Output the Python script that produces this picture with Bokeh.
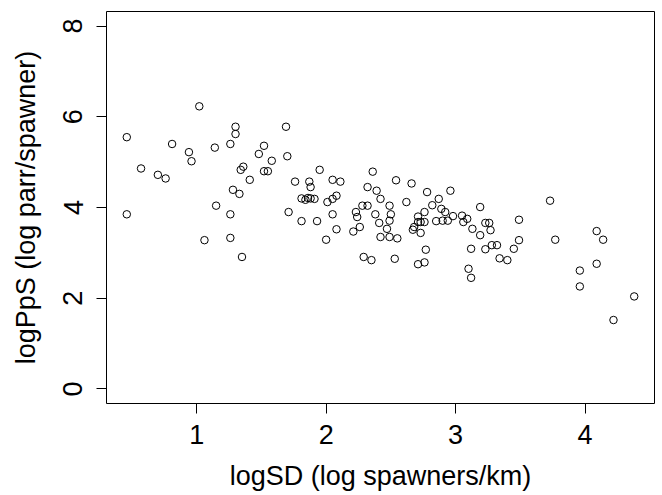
from bokeh.plotting import figure
from bokeh.models import Range1d, FixedTicker, ColumnDataSource
from bokeh.embed import file_html
from bokeh.resources import INLINE

log_sd = [0.46, 0.46, 0.57, 0.70, 0.76, 0.81, 0.94, 0.96, 1.02, 1.06,
          1.14, 1.15, 1.26, 1.26, 1.26, 1.28, 1.30, 1.30, 1.33, 1.34,
          1.35, 1.36, 1.41, 1.48, 1.52, 1.52, 1.55, 1.58, 1.69, 1.70,
          1.71, 1.76, 1.81, 1.84, 1.86, 1.91, 1.87, 1.88, 1.81, 1.93,
          1.95, 2.00, 2.01, 2.05, 2.08, 2.05, 2.11, 2.05, 2.08, 2.21,
          2.26, 2.23, 2.24, 2.28, 2.32, 2.29, 2.35, 2.32, 2.36, 2.39,
          2.38, 2.41, 2.42, 2.42, 2.49, 2.55, 2.47, 2.49, 2.49, 2.50,
          2.54, 2.53, 2.62, 2.66, 2.67, 2.68, 2.71, 2.73, 2.76, 2.71,
          2.76, 2.73, 2.77, 2.71, 2.76, 2.78, 2.82, 2.85, 2.87, 2.89,
          2.92, 2.90, 2.94, 2.96, 2.98, 3.05, 3.09, 3.06, 3.13, 3.19,
          3.19, 3.23, 3.26, 3.27, 3.12, 3.23, 3.28, 3.32, 3.34, 3.40,
          3.10, 3.12, 3.45, 3.49, 3.49, 3.73, 3.77, 3.96, 3.96, 4.09,
          4.14, 4.09, 4.22, 4.38, 1.88]
log_pps = [5.55, 3.85, 4.86, 4.72, 4.64, 5.40, 5.22, 5.02, 6.23, 3.28,
           5.32, 4.04, 5.40, 3.85, 3.33, 4.39, 5.78, 5.62, 4.30, 4.83,
           2.91, 4.90, 4.61, 5.18, 4.80, 5.36, 4.80, 5.03, 5.78, 5.13,
           3.90, 4.57, 4.20, 4.17, 4.21, 4.19, 4.57, 4.45, 3.70, 3.70,
           4.83, 3.29, 4.12, 4.19, 4.26, 4.61, 4.57, 3.85, 3.52, 3.47,
           3.57, 3.90, 3.79, 4.04, 4.04, 2.91, 2.84, 4.45, 4.79, 4.37,
           3.85, 3.66, 4.19, 3.35, 3.35, 3.32, 3.53, 3.71, 4.04, 3.85,
           4.60, 2.87, 4.12, 4.53, 3.51, 3.57, 3.68, 3.68, 3.68, 3.80,
           3.90, 3.44, 3.07, 2.75, 2.79, 4.34, 4.05, 3.70, 4.19, 3.97,
           3.90, 3.71, 3.71, 4.37, 3.81, 3.82, 3.75, 3.68, 3.53, 4.01,
           3.39, 3.66, 3.66, 3.50, 3.09, 3.08, 3.17, 3.17, 2.88, 2.84,
           2.65, 2.45, 3.09, 3.28, 3.73, 4.15, 3.29, 2.61, 2.26, 3.48,
           3.29, 2.76, 1.52, 2.04, 4.20]

x_ticks = [1, 2, 3, 4]
y_ticks = [0, 2, 4, 6, 8]
y_lim = (0, 8)
x_title = "logSD (log spawners/km)"
y_title = "logPpS (log parr/spawner)"

xmin, xmax = min(log_sd), max(log_sd)
xpad = 0.04 * (xmax - xmin)
ypad = 0.04 * (y_lim[1] - y_lim[0])

src = ColumnDataSource(data=dict(x=log_sd, y=log_pps))

p = figure(frame_width=548, frame_height=392,
           min_border_left=106, min_border_top=11, min_border_right=8, min_border_bottom=90,
           output_backend="svg", toolbar_location=None,
           x_range=Range1d(xmin - xpad, xmax + xpad),
           y_range=Range1d(y_lim[0] - ypad, y_lim[1] + ypad))

p.scatter("x", "y", source=src, marker="circle", size=7.5,
          fill_color=None, line_color="black", line_width=1)

p.grid.visible = False
p.outline_line_color = "black"
p.outline_line_width = 1
p.outline_line_alpha = 1
p.background_fill_color = "white"
p.border_fill_color = "white"

FONT = "Liberation Sans"
for ax, ticks, title in ((p.xaxis[0], x_ticks, x_title), (p.yaxis[0], y_ticks, y_title)):
    ax.ticker = FixedTicker(ticks=ticks)
    ax.axis_line_color = None
    ax.major_tick_in = 0
    ax.major_tick_out = 10
    ax.major_tick_line_color = "black"
    ax.major_tick_line_width = 1
    ax.minor_tick_line_color = None
    ax.major_label_text_font = FONT
    ax.major_label_text_font_size = "27px"
    ax.major_label_text_color = "black"
    ax.axis_label = title
    ax.axis_label_text_font = FONT
    ax.axis_label_text_font_size = "27px"
    ax.axis_label_text_font_style = "normal"
    ax.axis_label_text_color = "black"

p.xaxis[0].major_label_standoff = 11
p.xaxis[0].axis_label_standoff = 14
p.yaxis[0].major_label_orientation = "vertical"
p.yaxis[0].major_label_standoff = 14
p.yaxis[0].axis_label_standoff = 20

open("out.html", "w").write(file_html(p, INLINE))
